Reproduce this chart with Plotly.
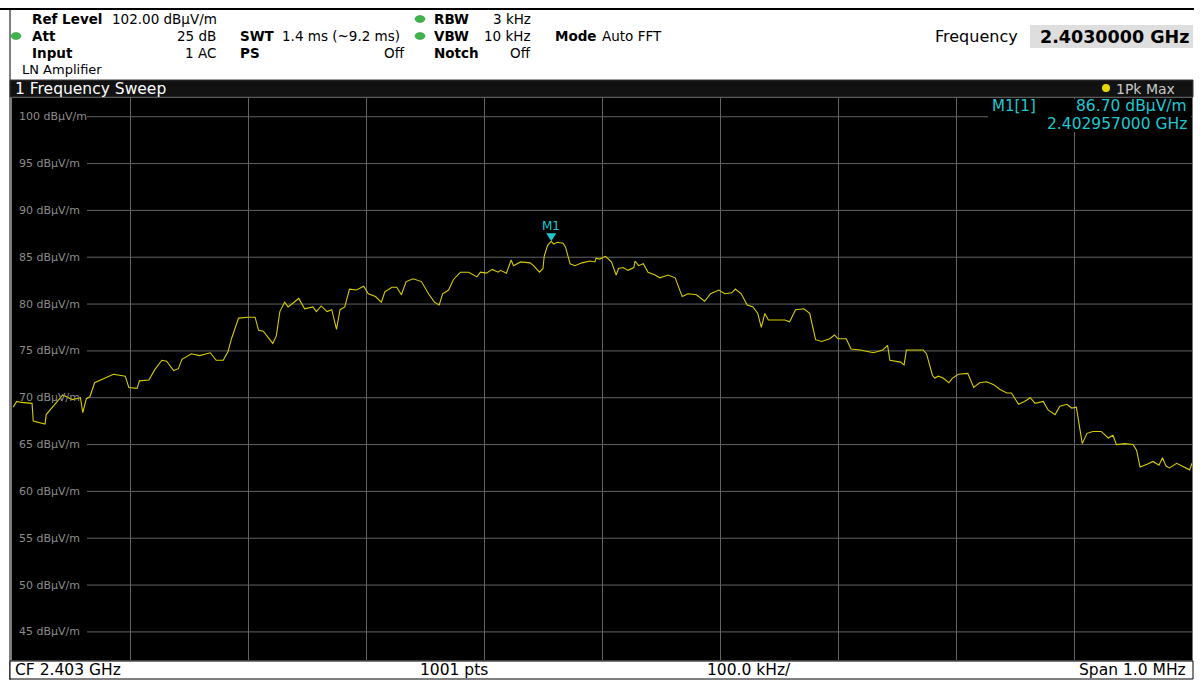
import plotly.graph_objects as go

# ---------------- data ----------------
start_mhz = 2402.5          # left edge of the span (CF 2.403 GHz, span 1.0 MHz)
span_mhz = 1.0
sweep_points = 1001
offset_khz = [1, 4, 8, 17, 18, 28, 29, 35, 43, 51, 58, 60, 63, 66, 70, 86, 96, 99, 106, 108,
              116, 121, 127, 131, 137, 141, 144, 152, 159, 168, 173, 179, 183, 186, 192, 200,
              206, 209, 213, 221, 224, 227, 231, 234, 243, 248, 255, 258, 262, 267, 271, 275,
              278, 282, 286, 292, 298, 302, 308, 313, 316, 322, 326, 330, 334, 340, 347, 353,
              358, 362, 365, 370, 374, 380, 387, 394, 397, 402, 407, 412, 414, 419, 423, 425,
              431, 439, 442, 447, 450, 451, 454, 457, 459, 462, 467, 469, 473, 477, 483, 490,
              494, 495, 498, 503, 508, 512, 514, 518, 522, 527, 528, 531, 535, 539, 545, 549,
              556, 562, 564, 568, 573, 580, 587, 592, 599, 604, 610, 613, 618, 623, 628, 632,
              635, 638, 641, 648, 655, 659, 664, 671, 676, 681, 686, 693, 697, 700, 707, 711,
              719, 730, 738, 742, 744, 753, 756, 758, 764, 772, 775, 780, 782, 785, 789, 794,
              797, 802, 810, 815, 820, 826, 832, 837, 843, 847, 853, 858, 863, 867, 874, 878,
              884, 888, 894, 898, 902, 905, 907, 911, 916, 923, 929, 933, 936, 943, 950, 953,
              956, 962, 967, 972, 975, 978, 981, 987, 993, 998, 1000]
level_dbuv = [69.0, 69.6, 69.5, 69.4, 67.5, 67.2, 68.2, 69.1, 70.3, 69.8, 70.0, 68.4, 69.9, 70.1,
              71.6, 72.5, 72.3, 71.1, 71.0, 71.8, 71.9, 73.0, 74.0, 73.9, 72.9, 73.1, 74.1, 74.7,
              74.5, 74.8, 74.0, 74.0, 74.9, 76.3, 78.5, 78.6, 78.6, 77.2, 77.1, 75.8, 76.6, 79.2,
              80.2, 79.7, 80.6, 79.5, 79.7, 79.2, 79.8, 79.2, 79.4, 77.3, 79.4, 79.7, 81.6, 81.5,
              81.9, 81.1, 80.8, 80.2, 81.3, 81.8, 81.8, 81.0, 82.4, 82.7, 82.4, 81.1, 80.2, 79.9,
              81.1, 81.5, 82.6, 83.4, 83.4, 82.9, 83.4, 83.3, 83.7, 83.4, 83.6, 83.3, 84.7, 84.1,
              84.5, 84.4, 84.1, 83.4, 83.8, 85.1, 86.3, 86.7, 86.4, 86.6, 86.5, 86.1, 84.3, 84.1,
              84.4, 84.6, 84.5, 84.9, 84.8, 85.1, 84.5, 83.1, 83.8, 83.9, 83.6, 83.9, 84.6, 84.1,
              84.3, 83.4, 83.1, 82.8, 83.1, 82.8, 82.2, 80.8, 81.1, 81.0, 80.3, 81.1, 81.5, 81.1,
              81.2, 81.6, 81.1, 79.9, 79.7, 79.0, 77.5, 79.0, 78.3, 78.3, 78.3, 78.1, 79.4, 79.5,
              79.0, 76.2, 76.0, 76.3, 76.7, 76.3, 76.3, 75.2, 75.1, 74.8, 75.1, 75.6, 74.0, 73.8,
              73.5, 75.1, 75.1, 75.1, 74.7, 72.4, 72.1, 72.3, 72.1, 71.6, 72.1, 72.5, 72.6, 71.1,
              71.6, 71.7, 71.4, 70.9, 70.5, 70.5, 69.3, 69.6, 70.0, 69.4, 69.6, 68.7, 68.2, 69.1,
              69.3, 68.9, 69.0, 66.6, 65.1, 66.2, 66.4, 66.4, 65.7, 66.0, 65.0, 65.1, 65.0, 64.4,
              62.6, 62.9, 63.2, 62.8, 63.6, 62.7, 62.5, 63.0, 62.6, 62.3, 63.0]
y_ticks = [100, 95, 90, 85, 80, 75, 70, 65, 60, 55, 50, 45]
ref_level = 102.0
y_bottom = 42.0
marker_freq_ghz = 2.402957
marker_level = 86.70

freq_mhz = [start_mhz + k / 1000.0 for k in offset_khz]
center_ghz = (start_mhz + span_mhz / 2) / 1000

# ---------------- layout helpers ----------------
W, H = 1203, 682
PX0, PX1 = 12, 1192      # plot area (pixels)
PY0, PY1 = 98, 660


def px(x):
    return x / W


def py(y):
    return 1 - y / H


FONT = "DejaVu Sans"
CYAN = "#1ec8d2"
TRACE = "#d6cc00"
GRID = "#646464"

fig = go.Figure()
fig.add_trace(go.Scatter(x=freq_mhz, y=level_dbuv, mode="lines",
                         line=dict(color=TRACE, width=1.1), hoverinfo="skip",
                         showlegend=False))

shapes = []
annotations = []

# outer frame / header line
shapes.append(dict(type="line", xref="paper", yref="paper", x0=px(0), x1=px(1194),
                   y0=py(9), y1=py(9), line=dict(color="black", width=2)))
shapes.append(dict(type="line", xref="paper", yref="paper", x0=px(10), x1=px(10),
                   y0=py(9), y1=py(680), line=dict(color="black", width=1)))
# title bar
shapes.append(dict(type="rect", xref="paper", yref="paper", x0=px(10), x1=px(1193),
                   y0=py(97), y1=py(80), fillcolor="#121212",
                   line=dict(color="#3a3a3a", width=1)))
# bottom status bar
shapes.append(dict(type="rect", xref="paper", yref="paper", x0=px(10), x1=px(1193),
                   y0=py(679), y1=py(661), fillcolor="white",
                   line=dict(color="black", width=1)))
# frequency value box
shapes.append(dict(type="rect", xref="paper", yref="paper", x0=px(1030), x1=px(1193),
                   y0=py(48), y1=py(25), fillcolor="#dedede", line=dict(width=0)))
# green status dots
for cx, cy in [(16, 36), (420, 19), (420, 36)]:
    shapes.append(dict(type="circle", xref="paper", yref="paper",
                       x0=px(cx - 5), x1=px(cx + 5), y0=py(cy + 3.5), y1=py(cy - 3.5),
                       fillcolor="#3db54a", line=dict(color="#2a8a35", width=0.5)))
# yellow trace dot in title bar
shapes.append(dict(type="circle", xref="paper", yref="paper",
                   x0=px(1102), x1=px(1110), y0=py(92), y1=py(84),
                   fillcolor="#e8d800", line=dict(width=0)))

# horizontal grid lines starting after their labels (below the trace)
for v in y_ticks:
    shapes.append(dict(type="line", xref="x domain", yref="y", x0=(87 - PX0) / (PX1 - PX0),
                       x1=1, y0=v, y1=v, layer="below",
                       line=dict(color=GRID, width=1)))
    annotations.append(dict(xref="paper", yref="y", x=px(17), y=v, xanchor="left",
                            yanchor="middle", showarrow=False, text=f"{v} dBµV/m",
                            font=dict(family=FONT, size=11, color="#8c8c8c")))

# marker info box blanking the grid
shapes.append(dict(type="rect", xref="paper", yref="paper",
                   x0=px(988), x1=px(1191), y0=py(132), y1=py(99), layer="above",
                   fillcolor="black", line=dict(width=0)))

# marker triangle (pixel-sized, anchored on the marker point)
marker_mhz = marker_freq_ghz * 1000
shapes.append(dict(type="path", xref="x", yref="y", xsizemode="pixel", ysizemode="pixel",
                   xanchor=marker_mhz, yanchor=marker_level,
                   path="M -5,8 L 5,8 L 0,0 Z", fillcolor=CYAN, line=dict(width=0),
                   layer="above"))
annotations.append(dict(x=marker_mhz, y=marker_level, xref="x", yref="y", yshift=6,
                        yanchor="bottom", xanchor="center", showarrow=False, text="M1",
                        font=dict(family=FONT, size=12, color=CYAN)))


def txt(x, y, s, anchor="left", size=13.5, color="black", bold=False, family=FONT):
    annotations.append(dict(xref="paper", yref="paper", x=px(x), y=py(y), xanchor=anchor,
                            yanchor="middle", showarrow=False,
                            text=f"<b>{s}</b>" if bold else s,
                            font=dict(family=family, size=size, color=color)))


# header
txt(30, 19, "Ref Level", bold=True)
txt(110, 19, "102.00 dBµV/m")
txt(30, 36, "Att", bold=True)
txt(218, 36, "25 dB", anchor="right")
txt(238, 36, "SWT", bold=True)
txt(280, 36, "1.4 ms (~9.2 ms)")
txt(30, 53, "Input", bold=True)
txt(218, 53, "1 AC", anchor="right")
txt(238, 53, "PS", bold=True)
txt(407, 53, "Off", anchor="right")
txt(20, 69, "LN Amplifier", size=13)
txt(432, 19, "RBW", bold=True)
txt(533, 19, "3 kHz", anchor="right")
txt(432, 36, "VBW", bold=True)
txt(533, 36, "10 kHz", anchor="right")
txt(432, 53, "Notch", bold=True)
txt(533, 53, "Off", anchor="right")
txt(553, 36, "Mode", bold=True)
txt(600, 36, "Auto FFT")
txt(1020, 37, "Frequency", anchor="right", size=16)
txt(1191, 37, f"{center_ghz:.7f} GHz", anchor="right", size=17.5, bold=True)

# title bar
txt(13, 89, "1 Frequency Sweep", size=15.5, color="white")
txt(1114, 89, "1Pk Max", size=14, color="#c8c8c8")

# marker readout
txt(990, 106, "M1[1]", size=15, color=CYAN)
txt(1189, 106, f"{marker_level:.2f} dBµV/m", anchor="right", size=15.5, color=CYAN)
txt(1189, 124, f"{marker_freq_ghz:.9f} GHz", anchor="right", size=15.5, color=CYAN)

# status bar
txt(13, 670, f"CF {center_ghz:.3f} GHz", size=15.5)
txt(454, 670, f"{sweep_points} pts", anchor="center", size=15.5)
txt(749, 670, f"{span_mhz * 100:.1f} kHz/", anchor="center", size=15.5)
txt(1188, 670, f"Span {span_mhz:.1f} MHz", anchor="right", size=15.5)

fig.update_layout(
    width=W, height=H, margin=dict(l=0, r=0, t=0, b=0),
    paper_bgcolor="white", plot_bgcolor="black", showlegend=False,
    xaxis=dict(domain=[px(PX0), px(PX1)], range=[start_mhz, start_mhz + span_mhz],
               tick0=start_mhz, dtick=span_mhz / 10, showgrid=True, gridcolor=GRID,
               gridwidth=1, showticklabels=False, ticks="", zeroline=False,
               showline=True, mirror=True, linecolor="#7a7a7a", linewidth=1),
    yaxis=dict(domain=[py(PY1), py(PY0)], range=[y_bottom, ref_level], showgrid=False,
               showticklabels=False, ticks="", zeroline=False,
               showline=True, mirror=True, linecolor="#7a7a7a", linewidth=1),
    shapes=shapes, annotations=annotations,
)

fig.write_html("out.html")
